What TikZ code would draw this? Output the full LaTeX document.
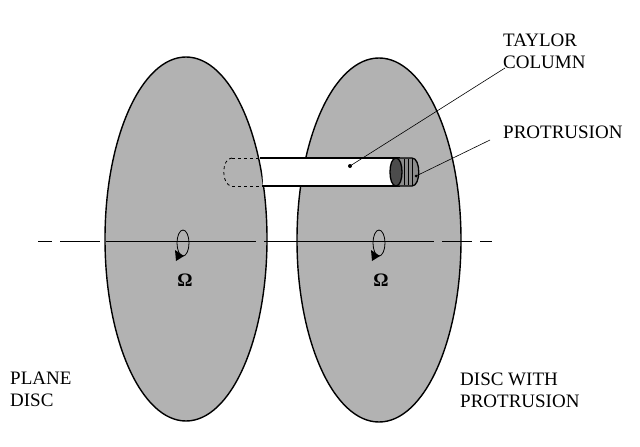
\documentclass[tikz,border=0pt]{standalone}
\usepackage{fontspec}
\setmainfont{Liberation Serif}
\begin{document}
\begin{tikzpicture}[x=1pt,y=-1pt,
  disc/.style={draw=black,line width=1.4pt,fill=black!30},
  lbl/.style={font=\fontsize{19}{22}\selectfont,inner sep=0pt,anchor=west,align=left},
  leader/.style={line width=0.6pt}]
\useasboundingbox (0,0) rectangle (640,447);
\path[disc] (186,239) ellipse [x radius=81,y radius=182];
\path[disc] (379,240) ellipse [x radius=82,y radius=182];
% axis
\draw[line width=0.8pt,dash pattern=on 14pt off 8pt on 40pt off 6pt on 150pt off 8pt on 170pt off 8pt on 30pt off 8pt] (38,241) -- (492,241);
% hidden end of column
\draw[dashed,line width=0.8pt] (232,158) .. controls (221,158) and (221,186) .. (232,186);
\draw[dashed,line width=0.8pt] (232,158) -- (262,158) (232,186) -- (262,186);
% column body
\fill[white] (262,158) -- (400,158) -- (400,186) -- (263,186) -- cycle;
\draw[line width=1.3pt] (260,158) -- (400,158) (262,186) -- (400,186);
% protrusion
\fill[black!45] (396,158) -- (412,158) .. controls (421,158) and (421,186) .. (412,186) -- (396,186) -- cycle;
\fill[black!70] (396,158) .. controls (388,158) and (388,186) .. (396,186) .. controls (404,186) and (404,158) .. (396,158);
\draw[line width=1.3pt] (396,158) .. controls (388,158) and (388,186) .. (396,186) .. controls (404,186) and (404,158) .. (396,158);
\draw[line width=1.3pt] (396,158) -- (412,158) .. controls (421,158) and (421,186) .. (412,186) -- (396,186);
\foreach \xx in {404,408,412} \draw[line width=0.5pt] (\xx,159) -- (\xx,185);
\node[coordinate] (tc) at (350,166) {};
\fill (tc) circle (2pt);
\node[coordinate] (pr) at (416,176) {};
\fill (pr) circle (1.5pt);
% rotation symbols
\foreach \cx/\nm in {183/l,379/r}{
  \draw[line width=0.8pt] (\cx,243) ellipse [x radius=6,y radius=13];
  \fill (\cx-8,250) -- (\cx+1,256) -- (\cx-7,261) -- cycle;
  \node[font=\bfseries\fontsize{19}{20}\selectfont] (om\nm) at (\cx+2,280) {Ω};
}
% labels
\node[lbl] (tlab) at (503,51) {TAYLOR\\COLUMN};
\node[lbl] (plab) at (503,132) {PROTRUSION};
\node[lbl] (pd) at (10,389) {PLANE\\DISC};
\node[lbl] (dwp) at (460,390) {DISC WITH\\PROTRUSION};
\draw[leader] (tc) -- (505,68);
\draw[leader] (pr) -- (490,140);
\end{tikzpicture}
\end{document}
